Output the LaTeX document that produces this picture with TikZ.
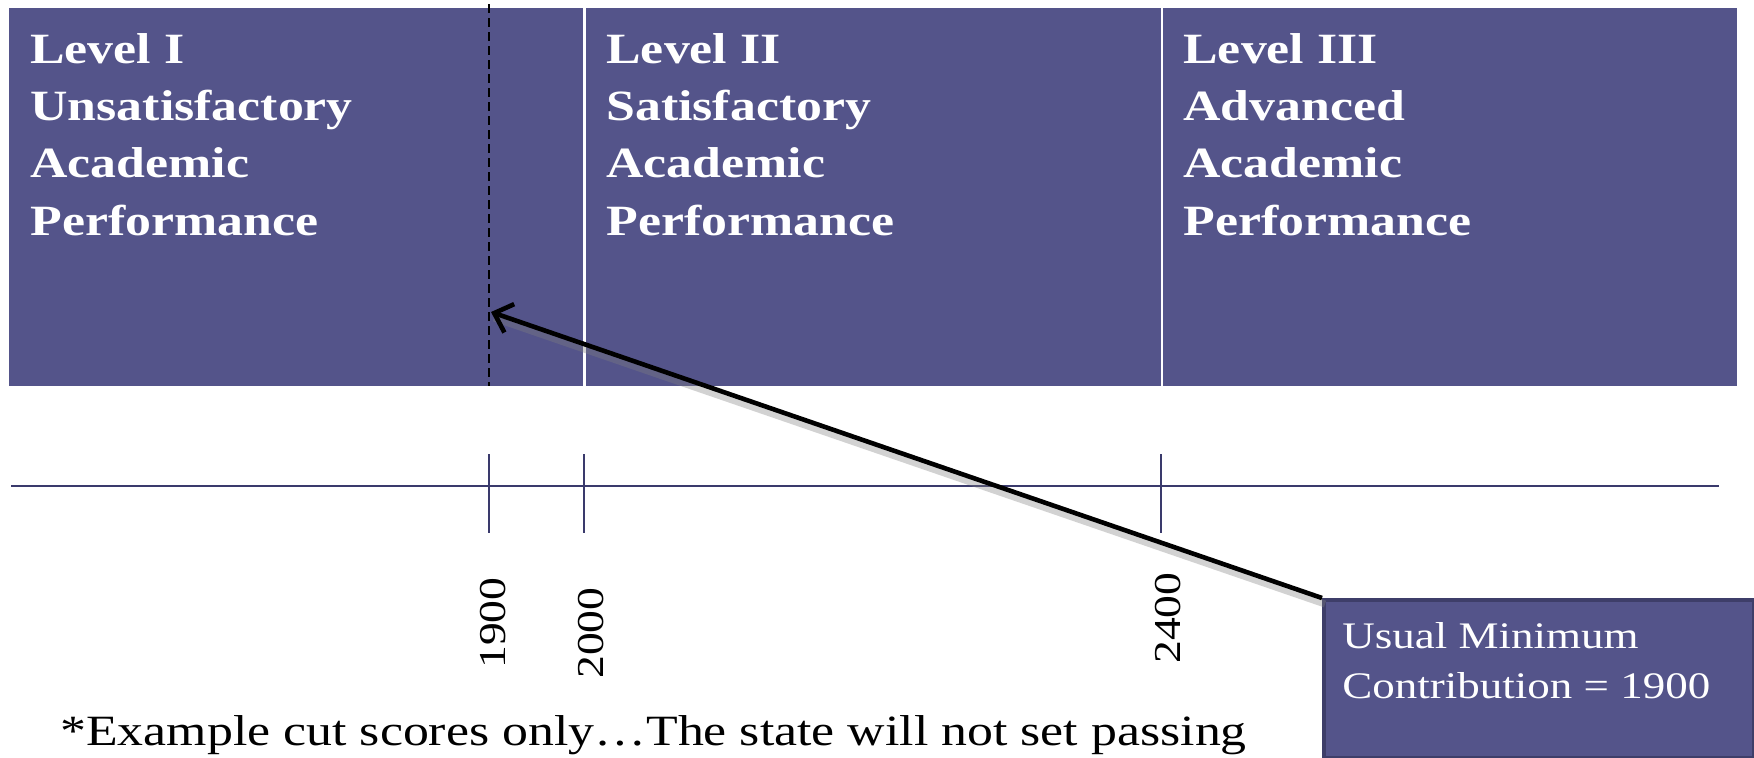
\documentclass[tikz,border=0pt]{standalone}
\usepackage{fontspec}
\setmainfont{Liberation Serif}[FakeStretch=1.2]
\usetikzlibrary{arrows.meta}
\definecolor{boxblue}{RGB}{84,84,138}
\definecolor{noteedge}{RGB}{62,62,105}
\definecolor{axisblue}{RGB}{58,58,108}
\tikzset{
  levelbox/.style={fill=boxblue, draw=none, inner sep=0pt, outer sep=0pt},
  leveltext/.style={text=white, anchor=north west, inner sep=0pt, align=left,
    font=\fontsize{21.6}{28.65}\selectfont\bfseries},
  notebox/.style={fill=boxblue, draw=noteedge, line width=2pt, inner sep=0pt},
  notetext/.style={text=white, anchor=north west, inner sep=0pt, align=left,
    font=\fontsize{18.75}{25}\selectfont},
  scorelabel/.style={rotate=90, inner sep=0pt, font=\fontsize{19}{22}\selectfont},
  axisline/.style={draw=axisblue, line width=1.1pt},
  cutline/.style={draw=black, line width=1.1pt, dash pattern=on 4.5pt off 2.5pt},
  pointer/.style={draw=black, line width=2.3pt, -{Straight Barb[length=8pt,width=15pt]}},
  pointershadow/.style={draw=gray, line width=3.5pt, opacity=0.35}
}
\begin{document}
\begin{tikzpicture}[x=0.5pt,y=-0.5pt]
\useasboundingbox (0,0) rectangle (1754,757);
\fill[white] (0,0) rectangle (1754,757);
% level boxes
\node[levelbox, minimum width=287pt, minimum height=189pt, anchor=north west] (lvl1) at (9,8) {};
\node[levelbox, minimum width=287.5pt, minimum height=189pt, anchor=north west] (lvl2) at (585.5,8) {};
\node[levelbox, minimum width=287pt, minimum height=189pt, anchor=north west] (lvl3) at (1162.5,8) {};
\node[leveltext] (t1) at (30,33) {Level I\\Unsatisfactory\\Academic\\Performance};
\node[leveltext] (t2) at (606,33) {Level II\\Satisfactory\\Academic\\Performance};
\node[leveltext] (t3) at (1183,33) {Level III\\Advanced\\Academic\\Performance};
% dashed cut line
\coordinate (cuttop) at (489,4);
\coordinate (cutbot) at (489,386);
\draw[cutline] (cuttop) -- (cutbot);
% axis
\draw[axisline] (11,486) -- (1719,486);
\draw[axisline] (489,454) -- (489,533);
\draw[axisline] (584,454) -- (584,533);
\draw[axisline] (1161,454) -- (1161,533);
\node[scorelabel] (s1900) at (493,623) {1900};
\node[scorelabel] (s2000) at (591,633) {2000};
\node[scorelabel] (s2400) at (1168,618) {2400};
% note box
\node[notebox, minimum width=215pt, minimum height=79pt, anchor=north west] (note) at (1322,598) {};
\node[notetext] (notetxt) at (1342,622) {Usual Minimum\\Contribution = 1900};
% pointer
\coordinate (tip) at (491,312);
\draw[pointershadow] ([shift={(3,6)}]note.north west) -- ([shift={(3,6)}]tip);
\draw[pointer] (note.north west) -- (tip);
% footnote
\node[anchor=base west, inner sep=0pt, font=\fontsize{21.6}{26}\selectfont] (foot) at (60,745) {*Example cut scores only…The state will not set passing};
\end{tikzpicture}
\end{document}
